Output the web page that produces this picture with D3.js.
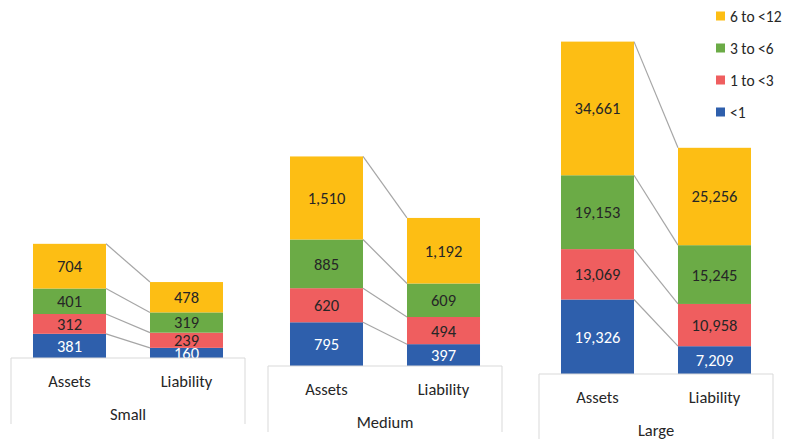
<!DOCTYPE html>
<html>
<head>
<meta charset="utf-8">
<script src="https://cdn.jsdelivr.net/npm/d3@7"></script>
<style>
  body { margin: 0; background: #fff; }
  svg { display: block; }
</style>
</head>
<body>
<div id="chart"></div>
<script>
// categories
const groups = ['Small', 'Medium', 'Large']
const sides = ['Assets', 'Liability']
const buckets = ['<1', '1 to <3', '3 to <6', '6 to <12']

// values, stacked bottom to top in bucket order
const smallAssets = [381, 312, 401, 704]
const smallLiability = [160, 239, 319, 478]
const mediumAssets = [795, 620, 885, 1510]
const mediumLiability = [397, 494, 609, 1192]
const largeAssets = [19326, 13069, 19153, 34661]
const largeLiability = [7209, 10958, 15245, 25256]

// each group is its own little chart with its own value axis max
const axisMax = [2000, 4000, 90000]

const colors = ['#2E5FAC', '#EF5E5F', '#6BAB46', '#FDBE14']

const values = {
    Small: [smallAssets, smallLiability],
    Medium: [mediumAssets, mediumLiability],
    Large: [largeAssets, largeLiability],
}

// where each sub chart sits (left edge of axis box, bottom of bars, top of plot)
const panels = [
    { left: 11, base: 358, top: 231 },
    { left: 268, base: 366, top: 146 },
    { left: 539, base: 374, top: 27 },
]
const panelWidth = 234
const barFrac = 0.624
const boxDepth = 66

const font = 'Carlito, Calibri, Lato, sans-serif'
const labelSize = 16.5

const svg = d3.select('#chart').append('svg')
    .attr('width', 787)
    .attr('height', 439)
    .attr('font-family', font)

const fmt = d3.format(',')

groups.forEach((g, gi) => {
    const p = panels[gi]

    const x = d3.scaleBand()
        .domain(sides)
        .range([p.left, p.left + panelWidth])

    const y = d3.scaleLinear()
        .domain([0, axisMax[gi]])
        .range([p.base, p.top])

    const bw = x.bandwidth() * barFrac

    // stack each side
    const stacks = sides.map((s, si) => {
        let acc = 0
        return values[g][si].map((v, bi) => {
            const seg = { side: s, bucket: bi, value: v, y0: acc, y1: acc + v }
            acc += v
            return seg
        })
    })

    const panel = svg.append('g').attr('class', 'panel-' + g.toLowerCase())

    // connector lines between the two stacks, at every segment top
    panel.append('g')
        .attr('class', 'connectors')
      .selectAll('line')
      .data(d3.range(buckets.length))
      .join('line')
        .attr('x1', x('Assets') + (x.bandwidth() + bw) / 2)
        .attr('x2', x('Liability') + (x.bandwidth() - bw) / 2)
        .attr('y1', i => y(stacks[0][i].y1))
        .attr('y2', i => y(stacks[1][i].y1))
        .attr('stroke', '#A6A6A6')
        .attr('stroke-width', 1.2)

    const segs = stacks.flat()

    panel.append('g')
        .attr('class', 'bars')
      .selectAll('rect')
      .data(segs)
      .join('rect')
        .attr('x', d => x(d.side) + (x.bandwidth() - bw) / 2)
        .attr('width', bw)
        .attr('y', d => y(d.y1))
        .attr('height', d => y(d.y0) - y(d.y1))
        .attr('fill', d => colors[d.bucket])

    panel.append('g')
        .attr('class', 'labels')
        .attr('font-size', labelSize)
        .attr('text-anchor', 'middle')
      .selectAll('text')
      .data(segs)
      .join('text')
        .attr('x', d => x(d.side) + x.bandwidth() / 2)
        .attr('y', d => (y(d.y0) + y(d.y1)) / 2)
        .attr('dy', '0.36em')
        .attr('fill', d => d.bucket === 0 ? '#fff' : '#262626')
        .text(d => fmt(d.value))

    // category axis box (covers anything that spills below the bars)
    const box = panel.append('g').attr('class', 'cat-axis')
    box.append('rect')
        .attr('x', p.left)
        .attr('y', p.base)
        .attr('width', panelWidth)
        .attr('height', boxDepth + 2)
        .attr('fill', '#fff')
    box.append('path')
        .attr('d', `M${p.left},${p.base + boxDepth}V${p.base}H${p.left + panelWidth}V${p.base + boxDepth}`)
        .attr('fill', 'none')
        .attr('stroke', '#D9D9D9')
        .attr('stroke-width', 1)

    box.selectAll('text.side')
      .data(sides)
      .join('text')
        .attr('class', 'side')
        .attr('x', d => x(d) + x.bandwidth() / 2)
        .attr('y', p.base + 23)
        .attr('dy', '0.36em')
        .attr('text-anchor', 'middle')
        .attr('font-size', labelSize)
        .attr('fill', '#262626')
        .text(d => d)

    box.append('text')
        .attr('x', p.left + panelWidth / 2)
        .attr('y', p.base + 56)
        .attr('dy', '0.36em')
        .attr('text-anchor', 'middle')
        .attr('font-size', labelSize)
        .attr('fill', '#262626')
        .text(g)
})

// legend, top right, largest bucket first
const legendOrder = buckets.slice().reverse()
const ly = d3.scalePoint()
    .domain(legendOrder)
    .range([16, 112])

const legend = svg.append('g')
    .attr('class', 'legend')
    .attr('font-size', 15.5)
    .attr('fill', '#262626')

legend.selectAll('rect')
  .data(legendOrder)
  .join('rect')
    .attr('x', 716)
    .attr('y', d => ly(d) - 4.5)
    .attr('width', 9)
    .attr('height', 9)
    .attr('fill', d => colors[buckets.indexOf(d)])

legend.selectAll('text')
  .data(legendOrder)
  .join('text')
    .attr('x', 730)
    .attr('y', d => ly(d))
    .attr('dy', '0.36em')
    .text(d => d)
</script>
</body>
</html>
